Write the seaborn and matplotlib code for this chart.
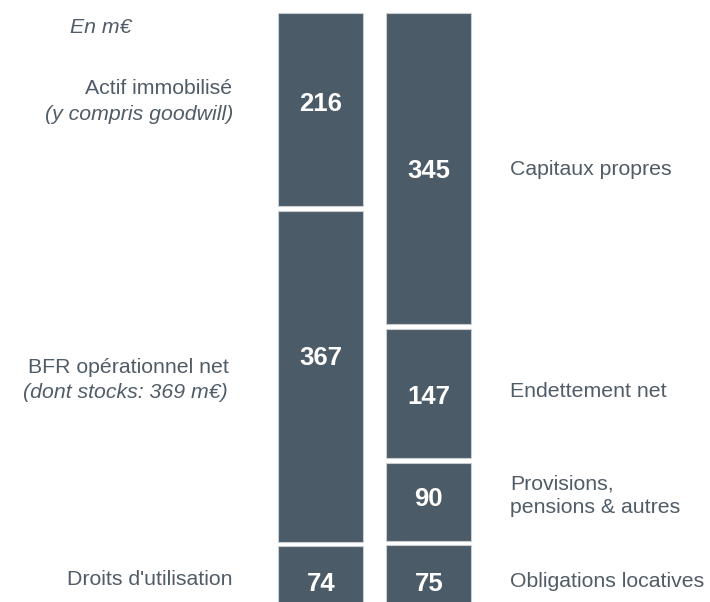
import seaborn as sns
import matplotlib.pyplot as plt
import pandas as pd

# Bilan simplifié, en m€
sides = ["Actif", "Passif"]
actif_values = [74, 367, 216]
passif_values = [75, 90, 147, 345]

bar_color = "#4b5b68"
text_color = "#505c67"

sns.set_theme(style="white")
plt.rcParams["font.family"] = ["Liberation Sans", "DejaVu Sans"]

# build segments (bottom -> top)
rows = []
for side, vals in zip(sides, [actif_values, passif_values]):
    start = 0
    for v in vals:
        rows.append({"side": side, "value": v, "start": start})
        start += v
segments = pd.DataFrame(rows)

fig = plt.figure(figsize=(7.1, 6.02), dpi=100)
ax = fig.add_axes([0, 0, 1, 1])

# pixel helpers for placing text (small shift so text centres match caps)
def X(px):
    return (px - 320.8) / 108

def Y(py, shift=0):
    return (611.6 - py - shift) / 0.913

gap = 5.0
for _, seg in segments.iterrows():
    sns.barplot(x=[seg["side"]], y=[seg["value"] - gap], order=sides,
                bottom=seg["start"] + gap / 2, color=bar_color, saturation=1,
                width=0.79, edgecolor="#c9ced3", linewidth=0.8, ax=ax)

ax.set_xlim(X(0), X(710))
ax.set_ylim(Y(602), Y(0) - 1)
ax.axis("off")

# values inside the bars
value_y = {"Actif": [582, 356, 103], "Passif": [582, 497, 395, 170]}
for i, (side, vals) in enumerate(zip(sides, [actif_values, passif_values])):
    for v, py in zip(vals, value_y[side]):
        ax.text(i, Y(py, 2), str(v), ha="center", va="center", color="white",
                fontsize=18.5, fontweight="bold")

fs = 15.3
ax.text(X(132), Y(26, 2.5), "En m€", ha="right", va="center", color=text_color,
        fontsize=fs, style="italic")

left_labels = [
    ("Actif immobilisé", 232, 87, "normal"),
    ("(y compris goodwill)", 233, 113, "italic"),
    ("BFR opérationnel net", 229, 366, "normal"),
    ("(dont stocks: 369 m€)", 228, 391, "italic"),
    ("Droits d'utilisation", 233, 578, "normal"),
]
for txt, px, py, st in left_labels:
    ax.text(X(px), Y(py, 2), txt, ha="right", va="center", color=text_color,
            fontsize=fs, style=st)

right_labels = [
    ("Capitaux propres", 168),
    ("Endettement net", 390),
    ("Provisions,", 482),
    ("pensions & autres", 506),
    ("Obligations locatives", 580),
]
for txt, py in right_labels:
    ax.text(X(510), Y(py, 2), txt, ha="left", va="center", color=text_color,
            fontsize=fs)

plt.savefig("out.png", dpi=100)
